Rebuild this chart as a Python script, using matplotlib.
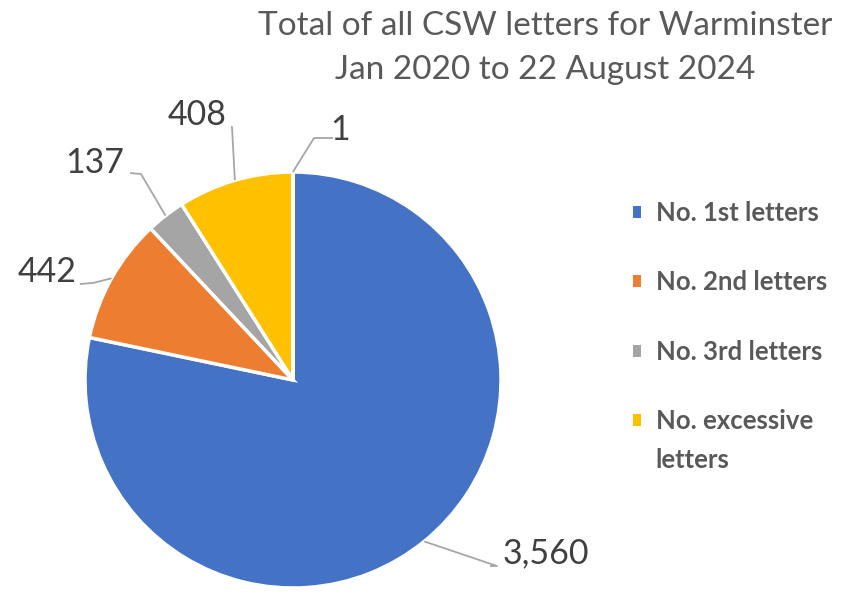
import numpy as np
import matplotlib.pyplot as plt
from matplotlib.patches import Patch

# data
categories = ["No. 1st letters", "No. 2nd letters", "No. 3rd letters",
              "No. excessive\nletters", ""]
values = [3560, 442, 137, 408, 1]
colors = ["#4472C4", "#ED7D31", "#A5A5A5", "#FFC000", "#5B9BD5"]
value_labels = ["3,560", "442", "137", "408", "1"]

plt.rcParams['font.family'] = ['Lato', 'DejaVu Sans']

W, H = 843, 593
fig = plt.figure(figsize=(W / 100, H / 100), dpi=100)
ax = fig.add_axes([0, 0, 1, 1])

cx, cy, r = 293, H - 380, 208
wedges, _ = ax.pie(values, colors=colors, startangle=90, counterclock=False,
                   center=(cx, cy), radius=r, frame=True,
                   wedgeprops=dict(edgecolor='white', linewidth=2.5))
ax.set_xlim(0, W)
ax.set_ylim(0, H)
ax.set_aspect('equal')
ax.axis('off')

# label text positions (pixels, top-left origin) and leader line points
label_pos = [(503, 553), (47, 272), (95, 163), (197, 115), (340, 130)]
elbows = [(497, 566), (93, 283), (141, 174), (232, 127), (314, 138)]
line_ends = [(490, 566), (80, 284), (130, 173), (231, 127), (333, 138)]
ha = ['left', 'center', 'center', 'center', 'center']

for w, lbl, (tx, ty), (ex, ey), (lx, ly), h in zip(wedges, value_labels, label_pos,
                                                   elbows, line_ends, ha):
    mid = np.deg2rad((w.theta1 + w.theta2) / 2)
    px, py = cx + r * np.cos(mid), cy + r * np.sin(mid)
    ax.plot([px, ex, lx], [py, H - ey, H - ly], color='#A6A6A6', lw=1.3,
            solid_capstyle='butt')
    ax.text(tx, H - ty, lbl, fontsize=24.5, color='#404040', ha=h, va='center')

ax.text(545, H - 26, "Total of all CSW letters for Warminster", fontsize=24,
        color='#595959', ha='center', va='center')
ax.text(545, H - 70, "Jan 2020 to 22 August 2024", fontsize=24,
        color='#595959', ha='center', va='center')

# legend: first line of each label next to the marker, wrapped rest below
leg_labels = [c.split("\n")[0] for c in categories[:4]]
handles = [Patch(facecolor=c, edgecolor='none') for c in colors[:4]]
leg = ax.legend(handles, leg_labels, loc='upper left',
                bbox_to_anchor=(633 / W, 1 - 201 / H), frameon=False,
                borderpad=0, borderaxespad=0,
                prop=dict(size=18.5, weight='bold'), labelcolor='#595959',
                handlelength=0.33, handleheight=0.33, handletextpad=0.55,
                labelspacing=1.77)

fig.canvas.draw()
inv = ax.transData.inverted()
for full, t in zip(categories[:4], leg.get_texts()):
    parts = full.split("\n")
    if len(parts) > 1:
        bb = t.get_window_extent()
        x0, y0 = inv.transform((bb.x0, bb.y0))
        ax.text(x0, y0 - 39, "\n".join(parts[1:]), fontsize=18.5,
                fontweight='bold', color='#595959', ha='left', va='bottom')

fig.savefig("out.png", dpi=100)
